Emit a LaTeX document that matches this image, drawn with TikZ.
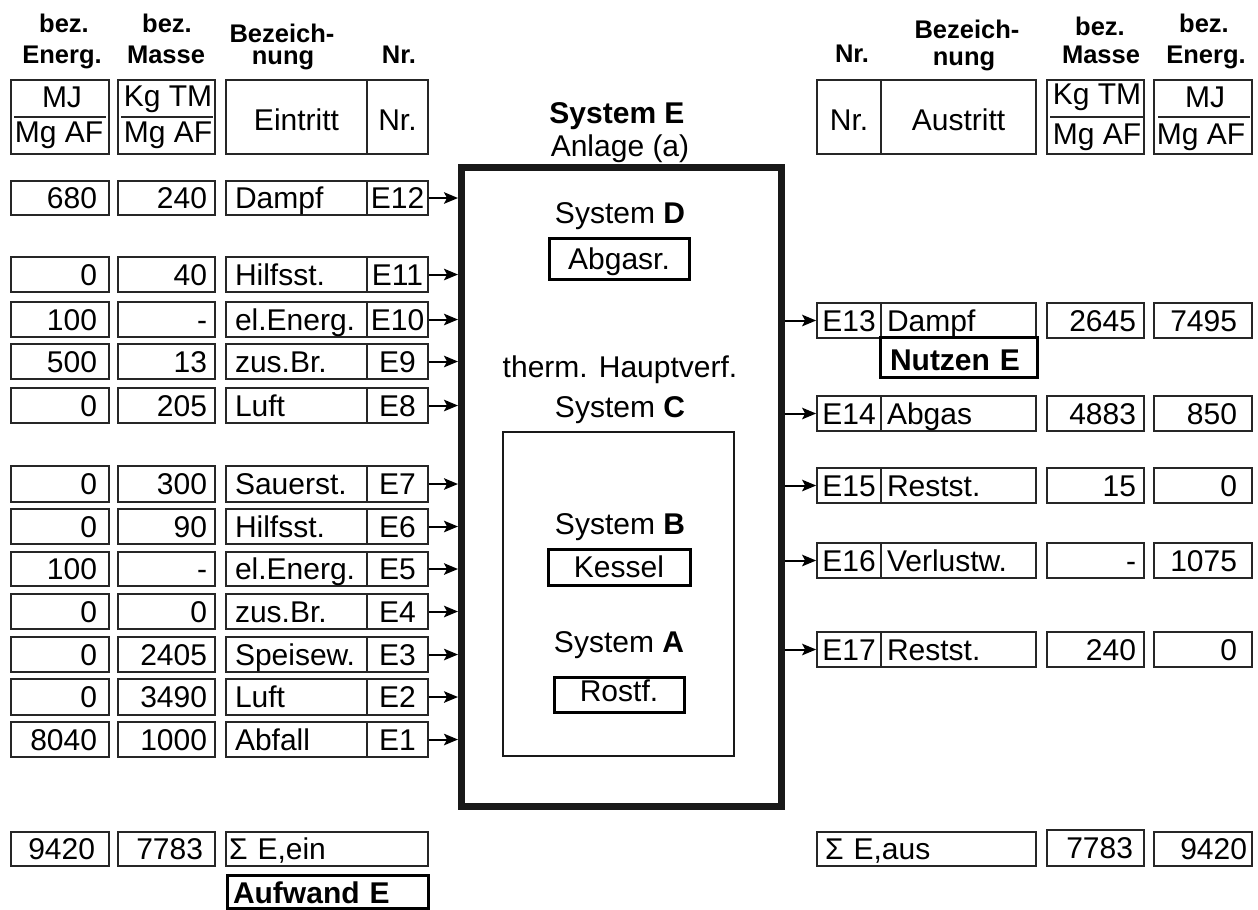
\documentclass[tikz,border=0pt]{standalone}
\usepackage{fontspec}
\setmainfont{Liberation Sans}
\usetikzlibrary{arrows.meta}
\newcommand{\cell}[8]{%
  \pgfmathsetmacro{\cellH}{(#5-#3)*0.4}%
  \pgfmathsetmacro{\cellTW}{(#4-#2-2*#7)*0.4}%
  \pgfmathsetmacro{\cellP}{#7*0.4}%
  \node[cellbox,#6,inner xsep=\cellP pt,text width=\cellTW pt,minimum height=\cellH pt] (#1) at ({(#2+#4)/2},{(#3+#5)/2}) {#8};%
}
\tikzset{
  cellbox/.style={draw=black!85, line width=0.7pt, inner ysep=0pt,
    font=\fontsize{12}{14}\selectfont, text height=8.6pt, text depth=0pt},
  R/.style={align=right}, L/.style={align=left}, C/.style={align=center},
  hdr/.style={text height=10.4pt},
  boldbox/.style={draw=black, line width=1.2pt, font=\fontsize{12}{14}\selectfont\bfseries},
  htitle/.style={anchor=base, inner sep=0pt, font=\fontsize{10.2}{12}\selectfont\bfseries},
  ftxt/.style={anchor=base, inner sep=0pt, font=\fontsize{12}{14}\selectfont},
  stxt/.style={anchor=base, inner sep=0pt, font=\fontsize{12}{14}\selectfont},
  arr/.style={line width=0.8pt, -{Stealth[length=5.6pt, width=4.6pt, inset=1.2pt]}},
  fracline/.style={line width=0.7pt, draw=black!85},
}
\begin{document}
\begin{tikzpicture}[x=0.4pt,y=-0.4pt]
\useasboundingbox (0,0) rectangle (1258,909);
\fill[white] (0,0) rectangle (1258,909);

% ---------- main system box ----------
\node[draw=black!90, line width=2.8pt, minimum width=128pt, minimum height=255.4pt, inner sep=0pt] (main) at (621.5,486.75) {};
\node[draw=black!90, line width=1pt, minimum width=92.4pt, minimum height=129.6pt, inner sep=0pt] (sysC) at (618.5,594) {};

\node[stxt, font=\fontsize{12}{14}\selectfont\bfseries] (sysE) at (617,123) {System E};
\node[stxt] (anl) at (620,156) {Anlage (a)};
\node[stxt] (sysDt) at (620,223) {System \textbf{D}};
\node[boldbox, font=\fontsize{12}{14}\selectfont, minimum width=56pt, minimum height=16.4pt, inner sep=0pt, text height=8.6pt, text depth=0.2pt] (abg) at (619,258.5) {Abgasr.};
\node[stxt] (thm) at (620,377) {therm. Hauptverf.};
\node[stxt] (sysCt) at (620,417) {System \textbf{C}};
\node[stxt] (sysBt) at (620,534) {System \textbf{B}};
\node[boldbox, font=\fontsize{12}{14}\selectfont, minimum width=56.8pt, minimum height=14.4pt, inner sep=0pt, text height=8.6pt, text depth=0.6pt] (kes) at (619,567) {Kessel};
\node[stxt] (sysAt) at (619,652) {System \textbf{A}};
\node[boldbox, font=\fontsize{12}{14}\selectfont, minimum width=52pt, minimum height=14pt, inner sep=0pt, text height=8.6pt, text depth=3.4pt] (rost) at (619,694.5) {Rostf.};

% ---------- left header ----------
\node[htitle] (lt1a) at (64,32) {bez.};
\node[htitle] (lt1b) at (62,63) {Energ.};
\node[htitle] (lt2a) at (167,32) {bez.};
\node[htitle] (lt2b) at (166,63) {Masse};
\node[htitle] (lt3a) at (282,42) {Bezeich-};
\node[htitle] (lt3b) at (283,64) {nung};
\node[htitle] (lt4) at (399,63) {Nr.};

\cell{hEn}{11}{80}{109}{154}{C}{0}{}
\cell{hMa}{118}{80}{215}{154}{C}{0}{}
\cell{hEin}{226}{80}{367}{154}{C,hdr}{0}{Eintritt}
\cell{hNr}{367}{80}{428}{154}{C,hdr}{0}{Nr.}
\draw[fracline] ([xshift=1.6pt]hEn.west) -- ([xshift=-1.6pt]hEn.east);
\draw[fracline] ([xshift=1.6pt]hMa.west) -- ([xshift=-1.2pt]hMa.east);
\node[ftxt] (hEnT) at (62,107) {MJ};
\node[ftxt] (hEnB) at (59,142) {Mg AF};
\node[ftxt] (hMaT) at (168,106) {Kg TM};
\node[ftxt] (hMaB) at (168,142) {Mg AF};

% ---------- right header ----------
\node[htitle] (rt1) at (852,62) {Nr.};
\node[htitle] (rt2a) at (967,38) {Bezeich-};
\node[htitle] (rt2b) at (964,65) {nung};
\node[htitle] (rt3a) at (1100,35) {bez.};
\node[htitle] (rt3b) at (1101,63) {Masse};
\node[htitle] (rt4a) at (1204,32) {bez.};
\node[htitle] (rt4b) at (1206,63) {Energ.};

\cell{hrNr}{817}{80}{881}{154}{C,hdr}{0}{Nr.}
\cell{hAus}{881}{80}{1036}{154}{C,hdr}{0}{Austritt}
\cell{hrMa}{1047}{80}{1144}{154}{C}{0}{}
\cell{hrEn}{1154}{80}{1252}{154}{C}{0}{}
\draw[fracline] ([xshift=1.6pt]hrMa.west) -- ([xshift=-0.8pt]hrMa.east);
\draw[fracline] ([xshift=2pt]hrEn.west) -- ([xshift=-1.2pt]hrEn.east);
\node[ftxt] (hrMaT) at (1097,104) {Kg TM};
\node[ftxt] (hrMaB) at (1097,144) {Mg AF};
\node[ftxt] (hrEnT) at (1205,107) {MJ};
\node[ftxt] (hrEnB) at (1201,144) {Mg AF};

% ---------- left rows ----------
\foreach \n/\t/\b/\en/\ma/\na in {
  12/181/215/680/240/Dampf,
  11/257/292/0/40/Hilfsst.,
  10/302/337/100/-/el.Energ.,
  9/344/379/500/13/zus.Br.,
  8/388/423/0/205/Luft,
  7/466/502/0/300/Sauerst.,
  6/509/544/0/90/Hilfsst.,
  5/552/586/100/-/el.Energ.,
  4/594/629/0/0/zus.Br.,
  3/637/672/0/2405/Speisew.,
  2/679/715/0/3490/Luft,
  1/722/757/8040/1000/Abfall}{
  \cell{len\n}{11}{\t}{109}{\b}{R}{12}{\en}
  \cell{lma\n}{118}{\t}{215}{\b}{R}{8}{\ma}
  \cell{lna\n}{226}{\t}{367}{\b}{L}{9}{\na}
  \cell{lnr\n}{367}{\t}{428}{\b}{C}{0}{E\n}
  \draw[arr] (lnr\n.east) -- (lnr\n.east -| main.west);
}

% ---------- right rows ----------
\foreach \n/\t/\b/\na/\ma/\en in {
  13/303/338/Dampf/2645/7495,
  14/396/431/Abgas/4883/850,
  15/468/503/Restst./15/0,
  16/543/578/Verlustw./-/1075,
  17/632/667/Restst./240/0}{
  \cell{rnr\n}{817}{\t}{881}{\b}{C}{0}{E\n}
  \cell{rna\n}{881}{\t}{1036}{\b}{L}{6}{\na}
  \cell{rma\n}{1047}{\t}{1144}{\b}{R}{8}{\ma}
  \cell{ren\n}{1154}{\t}{1252}{\b}{R}{15}{\en}
  \draw[arr] (rnr\n.west -| main.east) -- (rnr\n.west);
}

\node[boldbox, minimum width=62.8pt, minimum height=16pt, inner ysep=0pt, inner xsep=4pt, text width=54.8pt, align=left, text height=10.4pt, text depth=0pt] (nutz) at (958.5,357) {Nutzen E};

% ---------- sums ----------
\cell{sEnL}{11}{832}{109}{866}{R}{14}{9420}
\cell{sMaL}{118}{832}{215}{866}{R}{12}{7783}
\cell{sNaL}{226}{832}{428}{866}{L}{3}{Σ E,ein}
\node[boldbox, minimum width=80.4pt, minimum height=13.2pt, inner ysep=0pt, inner xsep=2.4pt, text width=75.6pt, align=left, text height=9.2pt, text depth=0pt] (aufw) at (327.5,891.5) {Aufwand E};

\cell{sNaR}{817}{832}{1036}{866}{L}{8}{Σ E,aus}
\cell{sMaR}{1047}{830}{1144}{866}{R}{11}{7783}
\cell{sEnR}{1154}{832}{1252}{866}{R}{5}{9420}
\end{tikzpicture}
\end{document}
